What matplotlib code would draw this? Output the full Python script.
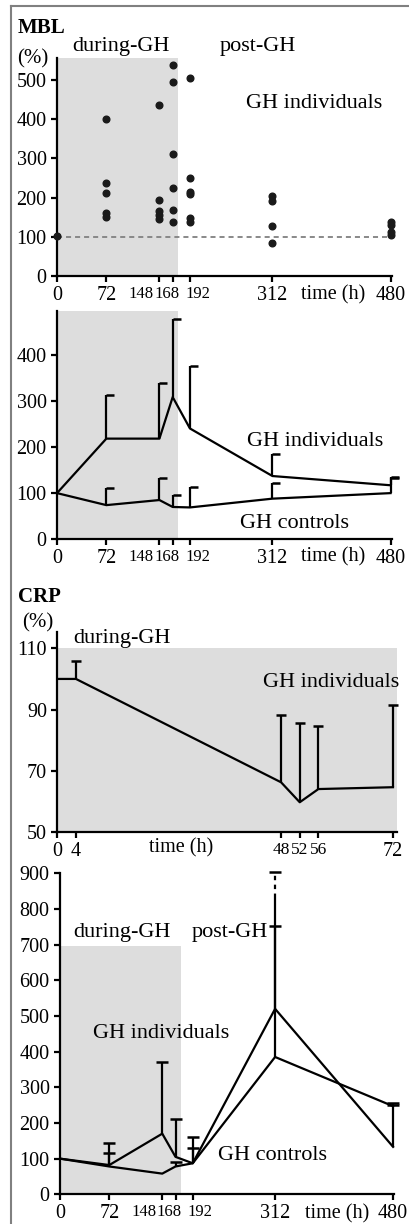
import numpy as np
import matplotlib
matplotlib.use('Agg')
import matplotlib.pyplot as plt
from matplotlib.lines import Line2D

plt.rcParams['font.family'] = 'Liberation Serif'

nan = np.nan

# ---- data ----
HOURS = [0, 72, 148, 168, 192, 312, 480]
TICK_LABELS = ['0', '72', '148', '168', '192', '312', '480']

# MBL, single individuals (%)
MBL_DOTS = [[103],
            [401, 238, 211, 160, 150],
            [437, 193, 166, 156, 146],
            [538, 494, 311, 224, 168, 137],
            [504, 250, 214, 209, 147, 137],
            [203, 191, 128, 85],
            [139, 129, 111, 104]]
BASELINE_PCT = 100

# MBL, mean + upper SD
MBL_IND_MEAN = [100, 218, 218, 308, 240, 137, 117]
MBL_IND_TOP = [nan, 312, 338, 478, 375, 184, 135]
MBL_CTL_MEAN = [100, 74, 85, 70, 69, 88, 100]
MBL_CTL_TOP = [nan, 110, 132, 95, 113, 121, 132]

# CRP during GH
CRP_HOURS = [0, 4, 48, 52, 56, 72]
CRP_TICK_LABELS = ['0', '4', '48', '52', '56', '72']
CRP_MEAN = [100, 100, 66.3, 59.8, 64.1, 64.7]
CRP_TOP = [nan, 105.9, 88.3, 85.5, 84.5, 91.6]

# CRP long run
CRP_IND_MEAN = [100, 82, 170, 105, 87, 520, 133]
CRP_IND_TOP = [nan, 143, 371, 210, 161, 905, 257]
CRP_CTL_MEAN = [100, 78, 58, 78, 87, 385, 247]
CRP_CTL_TOP = [nan, 115, nan, 91, 129, 752, 250]
CRP_DOTTED_FROM = 830   # SD bar drawn dotted above this

DURING_END = 175
CRP_SHADE_TOP = 695

# ---- layout ----
W, H = 410, 1224
SHADE = '#dddddd'
SQUEEZED = {'148', '168', '192', '48', '52', '56'}

# non-uniform time axis (position units ~ pixels)
POS = [0, 49.5, 102.7, 116, 133.3, 216, 334.5]
# where the crowded labels sit (148, 168, 192)
SQUEEZED_POS = [84.5, 110, 141]
_hx = np.array([-480.0] + HOURS + [960.0])
_px = np.array([-480.0 * POS[1] / HOURS[1]] + POS +
               [POS[-1] + 480.0 * (POS[-1] - POS[-2]) / (HOURS[-1] - HOURS[-2])])


def fwd(x):
    return np.interp(x, _hx, _px)


def inv(p):
    return np.interp(p, _px, _hx)


def add_ax(fig, left, top, right, bottom):
    return fig.add_axes([left / W, 1 - bottom / H, (right - left) / W, (bottom - top) / H])


def style(ax):
    ax.set_facecolor('none')
    for s in ['top', 'right']:
        ax.spines[s].set_visible(False)
    for s in ['left', 'bottom']:
        ax.spines[s].set_linewidth(1.6)
    ax.tick_params(which='major', length=4.5, width=1.6, labelsize=14.5)
    ax.tick_params(axis='x', pad=2.5)
    ax.tick_params(axis='y', pad=3)


def time_axis(ax):
    ax.set_xscale('function', functions=(fwd, inv))
    ax.set_xlim(0, 482)
    major = [t if t not in SQUEEZED else '' for t in TICK_LABELS]
    ax.set_xticks(HOURS, major)
    minor = [t for t in TICK_LABELS if t in SQUEEZED]
    ax.set_xticks(inv(np.array(SQUEEZED_POS)), minor, minor=True)
    ax.tick_params(axis='x', which='minor', length=0, pad=7, labelsize=12)


def sd_bars(ax, x, mean, top, marker, ms):
    for xi, m, t in zip(x, mean, top):
        if np.isnan(t):
            continue
        ax.vlines(xi, m, t, colors='k', lw=1.6, clip_on=False)
    ax.plot(x, top, ls='none', marker=marker, ms=ms, mew=1.8, color='k', clip_on=False)


def label(fig, x, y, s, **kw):
    kw.setdefault('ha', 'center')
    kw.setdefault('fontsize', 16)
    fig.text(x / W, 1 - y / H, s, va='baseline', **kw)


fig = plt.figure(figsize=(W / 100, H / 100), dpi=100)

# ---- panel 1: MBL individual values ----
ax1 = add_ax(fig, 57, 58, 392, 276)
style(ax1)
time_axis(ax1)
ax1.set_ylim(0, 556)
ax1.set_yticks(range(0, 501, 100))
ax1.axvspan(0, DURING_END, color=SHADE, lw=0, zorder=0)
ax1.hlines(BASELINE_PCT, HOURS[0], HOURS[-1], colors='#808080', lw=1.3,
           linestyles=(0, (2.8, 2.2)), zorder=1)
for h, vals in zip(HOURS, MBL_DOTS):
    ax1.plot([h] * len(vals), vals, 'o', ms=4.8, color='#1a1a1a', clip_on=False, zorder=3)

label(fig, 18, 33, 'MBL', ha='left', fontweight='bold', fontsize=15)
label(fig, 120.5, 51.5, 'during-GH')
label(fig, 258, 51.5, 'post-GH')
label(fig, 33, 63, '(%)', fontsize=15)
label(fig, 314, 108, 'GH individuals')
label(fig, 333, 299, 'time (h)', fontsize=14.5)

# ---- panel 2: MBL mean + SD ----
half_cap = [(0, 0), (1, 0)]
ax2 = add_ax(fig, 57, 310.7, 392, 539.3)
style(ax2)
time_axis(ax2)
ax2.set_ylim(0, 495)
ax2.set_yticks(range(0, 401, 100))
ax2.axvspan(0, DURING_END, color=SHADE, lw=0, zorder=0)
ax2.plot(HOURS, MBL_IND_MEAN, color='k', lw=1.6, clip_on=False)
ax2.plot(HOURS, MBL_CTL_MEAN, color='k', lw=1.6, clip_on=False)
sd_bars(ax2, HOURS, MBL_IND_MEAN, MBL_IND_TOP, half_cap, 11)
sd_bars(ax2, HOURS, MBL_CTL_MEAN, MBL_CTL_TOP, half_cap, 11)

label(fig, 315, 446.5, 'GH individuals')
label(fig, 295, 528, 'GH controls')
label(fig, 333, 561.5, 'time (h)', fontsize=14.5)
label(fig, 18, 601.5, 'CRP', ha='left', fontweight='bold', fontsize=15)

# ---- panel 3: CRP during GH ----
ax3 = add_ax(fig, 57.3, 631.7, 397, 832.3)
style(ax3)
ax3.set_xlim(0, 72.86)
ax3.set_ylim(50, 115.4)
ax3.set_yticks([50, 70, 90, 110])
ax3.set_xticks(CRP_HOURS, CRP_TICK_LABELS)
for lbl in ax3.get_xticklabels():
    if lbl.get_text() in SQUEEZED:
        lbl.set_fontsize(12.5)
ax3.axhspan(50, 110, color=SHADE, lw=0, zorder=0)
ax3.plot(CRP_HOURS, CRP_MEAN, color='k', lw=1.6)
sd_bars(ax3, CRP_HOURS, CRP_MEAN, CRP_TOP, '_', 7)

label(fig, 38, 627, '(%)', fontsize=15)
label(fig, 122, 643, 'during-GH')
label(fig, 331, 687, 'GH individuals')
label(fig, 181, 852, 'time (h)', fontsize=14.5)

# ---- panel 4: CRP mean + SD ----
ax4 = add_ax(fig, 60, 873.3, 394.5, 1194.3)
style(ax4)
time_axis(ax4)
ax4.set_ylim(0, 900)
ax4.set_yticks(range(0, 901, 100))
ax4.fill_between([0, DURING_END], 0, CRP_SHADE_TOP, color=SHADE, lw=0, zorder=0)
ax4.plot(HOURS, CRP_IND_MEAN, color='k', lw=1.6, clip_on=False)
ax4.plot(HOURS, CRP_CTL_MEAN, color='k', lw=1.6, clip_on=False)
ind_solid = [min(t, CRP_DOTTED_FROM) if not np.isnan(t) else t for t in CRP_IND_TOP]
for xi, m, t in zip(HOURS, CRP_IND_MEAN, ind_solid):
    if not np.isnan(t):
        ax4.vlines(xi, m, t, colors='k', lw=1.6, clip_on=False)
for xi, t in zip(HOURS, CRP_IND_TOP):
    if t > CRP_DOTTED_FROM:
        ax4.vlines(xi, CRP_DOTTED_FROM, t, colors='k', lw=1.6,
                   linestyles=(0, (2, 2)), clip_on=False)
ax4.plot(HOURS, CRP_IND_TOP, ls='none', marker='_', ms=9, mew=1.8, color='k', clip_on=False)
sd_bars(ax4, HOURS, CRP_CTL_MEAN, CRP_CTL_TOP, '_', 9)

label(fig, 122, 936.5, 'during-GH')
label(fig, 230, 936.5, 'post-GH')
label(fig, 161, 1038, 'GH individuals')
label(fig, 272, 1159.5, 'GH controls')
label(fig, 337, 1218, 'time (h)', fontsize=14.5)

# frame lines (left and top)
fig.add_artist(Line2D([11 / W, 11 / W], [0, 1 - 6 / H], color='#808080', lw=1.5))
fig.add_artist(Line2D([11 / W, 1], [1 - 6 / H, 1 - 6 / H], color='#808080', lw=1.5))

fig.savefig('out.png', dpi=100)
